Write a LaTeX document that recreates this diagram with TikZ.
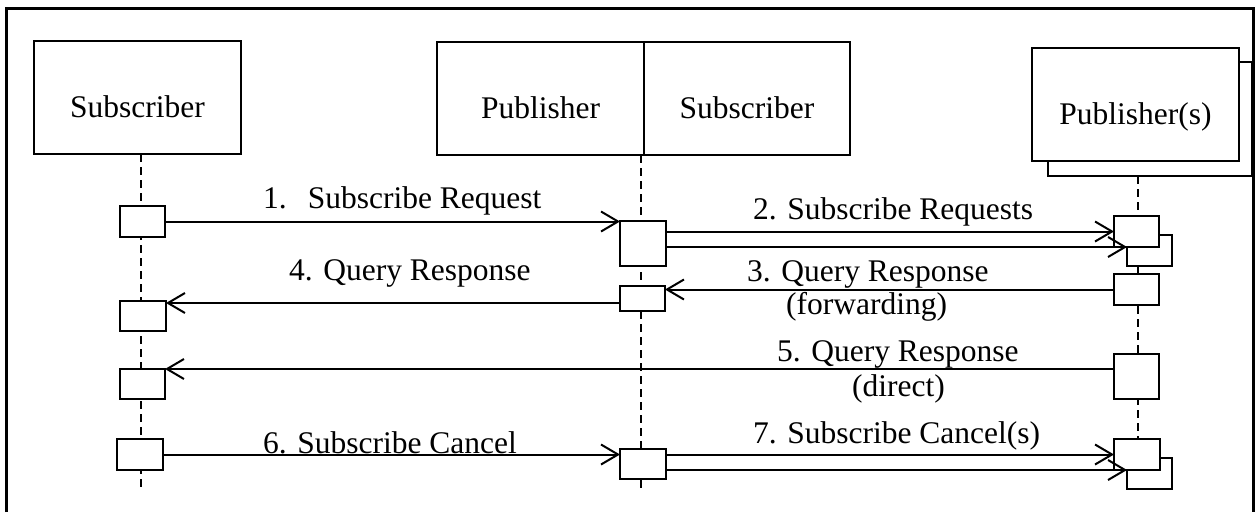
\documentclass[tikz,border=0pt]{standalone}
\usepackage{fontspec}
\setmainfont{Liberation Serif}
\usetikzlibrary{arrows.meta,calc}
\begin{document}
\begin{tikzpicture}[x=1pt,y=-1pt,
  box/.style={draw, line width=1.5pt, fill=white, inner sep=0pt, outer sep=0pt},
  hdr/.style={box, minimum width=207pt, minimum height=113pt, text height=40pt, text depth=0pt, font=\fontsize{31.5}{36}\selectfont},
  act/.style={box, minimum width=45pt, minimum height=31pt},
  life/.style={line width=1.8pt, dash pattern=on 8pt off 5pt},
  msg/.style={line width=2pt, -{Straight Barb[length=17pt,width=20pt,line width=2pt]}},
  lbl/.style={inner sep=0pt, anchor=base west, font=\fontsize{31.5}{36}\selectfont}
]
\useasboundingbox (0,0) rectangle (1257,512);
\fill[white] (0,0) rectangle (1257,512);
\draw[line width=3pt] (6.5,512) -- (6.5,8) -- (1253.5,8) -- (1253.5,512);

% headers
\node[hdr] (sub) at (137.5,97.5) {Subscriber};
\node[hdr] (pub) at (540.5,98.5) {Publisher};
\node[hdr, minimum width=206pt] (sub2) at (747,98.5) {Subscriber};
\node[box, minimum width=204pt, minimum height=114pt] (pubsb) at (1150,119) {};
\node[hdr] (pubs) at (1135.5,104.5) {Publisher(s)};

% lifelines
\coordinate (e1) at (141,491);
\coordinate (e2) at (641,491);
\coordinate (e3) at (1138,490);
\draw[life] (sub.south -| e1) -- (e1);
\draw[life] (pub.south east -| e2) -- (e2);
\draw[life] (pubsb.south -| e3) -- (e3);

% activation boxes
\node[act] (s1) at (142.5,221.5) {};
\node[act, minimum width=46pt, minimum height=45pt] (p1) at (643,243.5) {};
\node[act] (q1b) at (1149.5,250.5) {};
\node[act] (q1) at (1136.5,231.5) {};
\node[act] (q2) at (1136.5,289.5) {};
\node[act, minimum height=25pt] (p2) at (642.5,298.5) {};
\node[act, minimum width=46pt, minimum height=30pt] (s2) at (143,316) {};
\node[act, minimum height=45pt] (q3) at (1136.5,376.5) {};
\node[act, minimum height=30pt] (s3) at (142.5,384) {};
\node[act, minimum width=46pt] (s4) at (140,454.5) {};
\node[act, minimum width=46pt, minimum height=30pt] (p4) at (643,464) {};
\node[act] (q4b) at (1149.5,473.5) {};
\node[act, minimum width=46pt] (q4) at (1137,454.5) {};

% messages
\draw[msg] (s1.east) -- (s1.east -| p1.west);
\draw[msg] (p1.east |- q1.west) -- (q1.west);
\draw[msg] (p1.east |- q1.south) -- (q1.south -| q1b.west);
\draw[msg] (q2.west) -- (q2.west -| p2.east);
\draw[msg] ($(p2.west |- s2.north)+(0,2)$) -- ($(s2.north east)+(0,2)$);
\draw[msg] (q3.west |- s3.north) -- (s3.north east);
\draw[msg] (s4.east) -- (s4.east -| p4.west);
\draw[msg] (p4.east |- q4.west) -- (q4.west);
\draw[msg] (p4.east |- q4.south) -- (q4.south -| q4b.west);

% labels
\node[lbl] (t1) at (263,208) {1.\hspace{21pt}Subscribe Request};
\node[lbl] (t2) at (753,219) {2. Subscribe Requests};
\node[lbl] (t3) at (747,281) {3. Query Response};
\node[lbl] (t3b) at (786,314) {(forwarding)};
\node[lbl] (t4) at (289,280) {4. Query Response};
\node[lbl] (t5) at (777,361) {5. Query Response};
\node[lbl] (t5b) at (852,396) {(direct)};
\node[lbl] (t6) at (263,453) {6. Subscribe Cancel};
\node[lbl] (t7) at (753,443) {7. Subscribe Cancel(s)};
\end{tikzpicture}
\end{document}
